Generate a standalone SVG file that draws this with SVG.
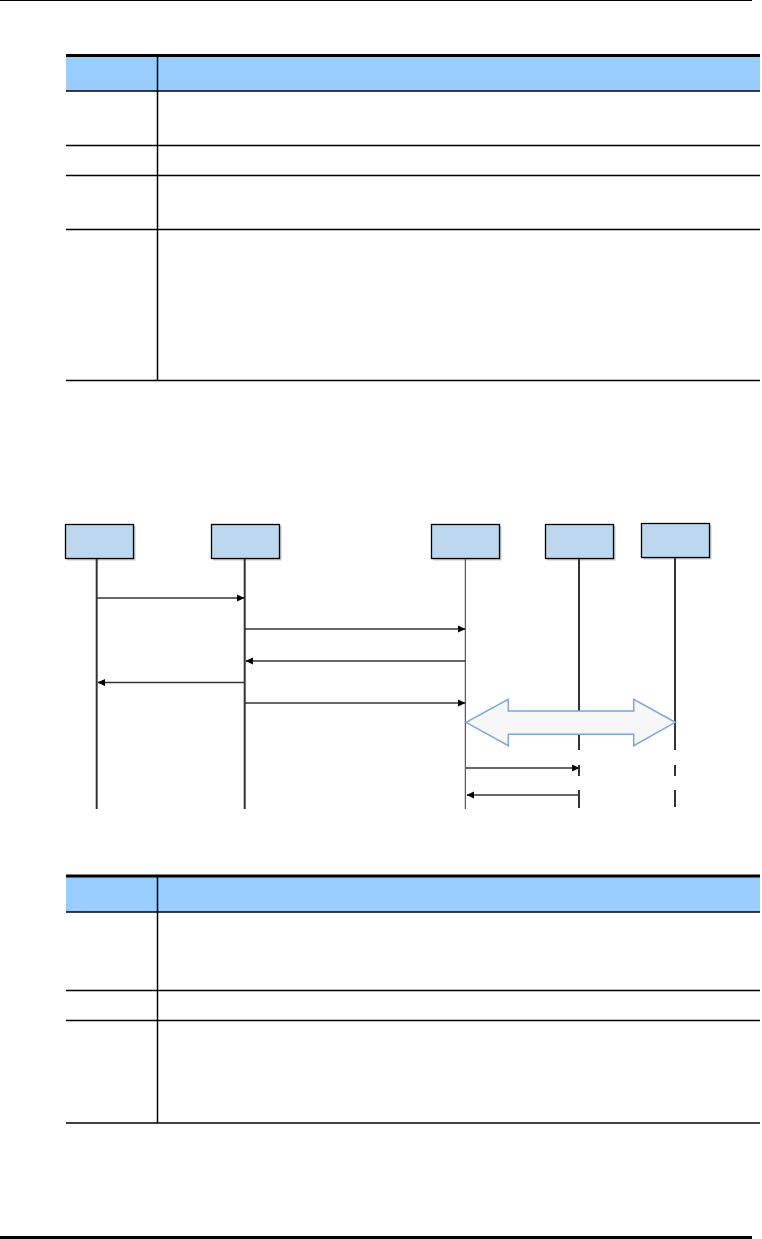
<svg xmlns="http://www.w3.org/2000/svg" width="762" height="1239" viewBox="0 0 762 1239">
<style>
.hdr{fill:#99CCFF;stroke:none}
.rule{stroke:#000;stroke-width:1.5;fill:none}
.thick{stroke:#000;stroke-width:3;fill:none}
.box{fill:#BDD7EE;stroke:#000;stroke-width:1.3}
.shadow{fill:#C8C8C8;stroke:none}
.life{stroke:#333;stroke-width:2;fill:none}
.life1{stroke:#333;stroke-width:1;fill:none}
.msg{stroke:#333;stroke-width:1.4;fill:none}
.dash{stroke:#333;stroke-width:2;fill:none;stroke-dasharray:11 14}
.big{fill:#F7F7F7;stroke:#7BA7D9;stroke-width:1.5}
</style>
<defs>
<marker id="ah" markerWidth="8" markerHeight="8" refX="7" refY="4" orient="auto" markerUnits="userSpaceOnUse">
<path d="M0,0.5 L7.5,4 L0,7.5 Z" fill="#000"/>
</marker>
</defs>
<rect width="762" height="1239" fill="#fff"/>
<g id="page">
<line x1="0" y1="0.5" x2="752" y2="0.5" stroke="#000" stroke-width="1"/>
<line x1="0" y1="1237.5" x2="752" y2="1237.5" stroke="#000" stroke-width="3"/>
</g>
<g id="table1">
<rect class="hdr" x="66" y="56" width="694" height="35"/>
<line class="thick" x1="66" y1="55.5" x2="760" y2="55.5"/>
<line class="rule" x1="66" y1="91" x2="760" y2="91"/>
<line class="rule" x1="66" y1="145.5" x2="760" y2="145.5"/>
<line class="rule" x1="66" y1="175.5" x2="760" y2="175.5"/>
<line class="rule" x1="66" y1="229.5" x2="760" y2="229.5"/>
<line class="rule" x1="66" y1="380.5" x2="760" y2="380.5"/>
<line class="rule" x1="157.5" y1="57" x2="157.5" y2="380.5"/>
</g>
<g id="table2">
<rect class="hdr" x="66" y="877" width="694" height="35"/>
<line class="thick" x1="66" y1="876" x2="760" y2="876"/>
<line class="rule" x1="66" y1="912" x2="760" y2="912"/>
<line class="rule" x1="66" y1="990.5" x2="760" y2="990.5"/>
<line class="rule" x1="66" y1="1020.5" x2="760" y2="1020.5"/>
<line class="rule" x1="66" y1="1123" x2="760" y2="1123" stroke-width="2.5"/>
<line class="rule" x1="157.5" y1="877" x2="157.5" y2="1123"/>
</g>
<g id="node1">
<rect class="shadow" x="67" y="526" width="68.5" height="34.5"/>
<rect class="box" x="65.5" y="524.5" width="68" height="34"/>
<line class="life" x1="96.7" y1="559" x2="96.7" y2="809"/>
</g>
<g id="node2">
<rect class="shadow" x="213" y="526" width="68.5" height="34.5"/>
<rect class="box" x="211.5" y="524.5" width="68" height="34"/>
<line class="life" x1="244.7" y1="559" x2="244.7" y2="809"/>
</g>
<g id="node3">
<rect class="shadow" x="433" y="526" width="68.5" height="34.5"/>
<rect class="box" x="431.5" y="524.5" width="68" height="34"/>
<line class="life1" x1="465.3" y1="559" x2="465.3" y2="809"/>
</g>
<g id="node4">
<rect class="shadow" x="547" y="526" width="68.5" height="34.5"/>
<rect class="box" x="545.5" y="524.5" width="68" height="34"/>
<line class="life" x1="579" y1="559" x2="579" y2="750"/>
<line class="life" x1="579" y1="765" x2="579" y2="776"/>
<line class="life" x1="579" y1="790" x2="579" y2="808"/>
</g>
<g id="node5">
<rect class="shadow" x="643" y="525" width="68.5" height="34.5"/>
<rect class="box" x="641.5" y="523.5" width="68" height="34"/>
<line class="life" x1="675" y1="558" x2="675" y2="750"/>
<line class="life" x1="675" y1="765" x2="675" y2="776"/>
<line class="life" x1="675" y1="790" x2="675" y2="807"/>
</g>
<g id="connectors">
<line class="msg" x1="97" y1="598" x2="244" y2="598" marker-end="url(#ah)"/>
<line class="msg" x1="245" y1="629" x2="465" y2="629" marker-end="url(#ah)"/>
<line class="msg" x1="465" y1="661" x2="246" y2="661" marker-end="url(#ah)"/>
<line class="msg" x1="244" y1="682.5" x2="98" y2="682.5" marker-end="url(#ah)"/>
<line class="msg" x1="245" y1="703" x2="465" y2="703" marker-end="url(#ah)"/>
<path class="big" d="M466,722.3 L508.3,699.3 L508.3,711 L633.7,711 L633.7,699.3 L675.3,722.3 L633.7,745.7 L633.7,734.3 L508.3,734.3 L508.3,745.7 Z"/>
<line class="msg" x1="466" y1="768" x2="579" y2="768" marker-end="url(#ah)"/>
<line class="msg" x1="579" y1="795" x2="467" y2="795" marker-end="url(#ah)"/>
</g>
</svg>
